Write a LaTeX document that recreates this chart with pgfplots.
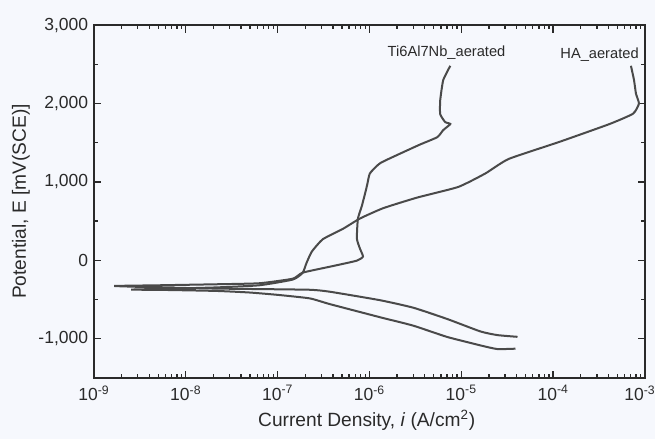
\documentclass[border=0pt]{standalone}
\usepackage{pgfplots}
\pgfplotsset{compat=1.18}
\usepackage{fontspec}
\setmainfont{Liberation Sans}
\definecolor{bg}{HTML}{F6F8FD}
\definecolor{curve}{HTML}{4A4A4A}
\definecolor{axcol}{HTML}{2A2A2A}
\begin{document}
\begin{tikzpicture}
\path[fill=bg, use as bounding box] (-56.4pt,-36.6pt) rectangle (336.6pt,226.8pt);
\begin{axis}[
  scale only axis, width=330.6pt, height=211.8pt,
  xmode=log, xmin=1e-9, xmax=1e-3,
  ymin=-1500, ymax=3000,
  axis line style={axcol, line width=0.8pt},
  tick style={draw=axcol, line width=0.8pt},
  tick align=inside,
  major tick length=4.5pt, minor tick length=2.6pt,
  xtick={1e-9,1e-8,1e-7,1e-6,1e-5,1e-4,1e-3},
  minor xtick={2e-9,3e-9,4e-9,5e-9,6e-9,7e-9,8e-9,9e-9,
    2e-8,3e-8,4e-8,5e-8,6e-8,7e-8,8e-8,9e-8,
    2e-7,3e-7,4e-7,5e-7,6e-7,7e-7,8e-7,9e-7,
    2e-6,3e-6,4e-6,5e-6,6e-6,7e-6,8e-6,9e-6,
    2e-5,3e-5,4e-5,5e-5,6e-5,7e-5,8e-5,9e-5,
    2e-4,3e-4,4e-4,5e-4,6e-4,7e-4,8e-4,9e-4},
  xticklabels={10\textsuperscript{-9},10\textsuperscript{-8},10\textsuperscript{-7},10\textsuperscript{-6},10\textsuperscript{-5},10\textsuperscript{-4},\kern-6pt 10\textsuperscript{-3}},
  ytick={-1000,0,1000,2000,3000},
  minor ytick={-1500,-500,500,1500,2500},
  yticklabels={{-1,000},{0},{1,000},{2,000},{3,000}},
  tick label style={font=\fontsize{10.5}{12}\selectfont, text=axcol},
  xticklabel style={yshift=-1pt},
  ylabel={Potential, E [mV(SCE)]},
  xlabel={Current Density, \textit{i} (A/cm\textsuperscript{2})},
  label style={font=\fontsize{11.5}{13}\selectfont, text=axcol},
  ylabel style={at={(axis description cs:-0.1325,0.5)}, anchor=center},
  xlabel style={at={(axis description cs:0.495,-0.119)}, anchor=center},
  clip=false,
]
% Ti6Al7Nb_aerated
\addplot[curve, line width=1.2pt, smooth, tension=0.3] coordinates {
(4.09e-5,-975) (2.47e-5,-953) (1.61e-5,-906) (7.03e-6,-748) (2.985e-6,-603)
(1.30e-6,-508) (3.70e-7,-400) (2.24e-7,-375) (4.94e-8,-365) (2.15e-8,-360)
(5.01e-9,-345) (1.66e-9,-327)
(5.01e-9,-318) (2.15e-8,-305) (6.31e-8,-292) (1.46e-7,-234) (1.87e-7,-157)
(3.99e-7,-73) (7.29e-7,-4) (8.49e-7,48) (7.87e-7,150) (7.29e-7,276)
(7.48e-7,531) (8.28e-7,698) (9.40e-7,954) (1.01e-6,1108) (1.30e-6,1237)
(2.0e-6,1343) (3.56e-6,1477) (5.47e-6,1570) (6.35e-6,1660) (7.59e-6,1738)
(6.68e-6,1762) (5.89e-6,1863) (5.89e-6,2041) (6.35e-6,2297) (7.59e-6,2480)
};
% HA_aerated
\addplot[curve, line width=1.2pt, smooth, tension=0.3] coordinates {
(3.89e-5,-1126) (2.47e-5,-1131) (1.61e-5,-1084) (7.03e-6,-977) (2.985e-6,-832)
(1.30e-6,-725) (3.70e-7,-558) (2.24e-7,-485) (1e-7,-440) (4.94e-8,-410)
(2.15e-8,-390) (6.31e-9,-378) (2.54e-9,-373)
(6.31e-9,-362) (2.15e-8,-345) (6.31e-8,-318) (1.46e-7,-245) (1.87e-7,-160)
(2.07e-7,-28) (2.36e-7,113) (3.10e-7,269) (5.13e-7,401) (7.87e-7,533)
(1.41e-6,665) (3.30e-6,800) (9.27e-6,936) (1.83e-5,1108) (3.27e-5,1292)
(1.148e-4,1507) (4.05e-4,1735) (7.40e-4,1869) (8.59e-4,1998) (7.98e-4,2124)
(7.59e-4,2300) (7.03e-4,2480)
};
\node[font=\fontsize{8.8}{10}\selectfont, text=axcol] at (axis cs:6.9e-6,2650) {Ti6Al7Nb\_aerated};
\node[font=\fontsize{8.8}{10}\selectfont, text=axcol] at (axis cs:3.2e-4,2620) {HA\_aerated};
\end{axis}
\end{tikzpicture}
\end{document}
